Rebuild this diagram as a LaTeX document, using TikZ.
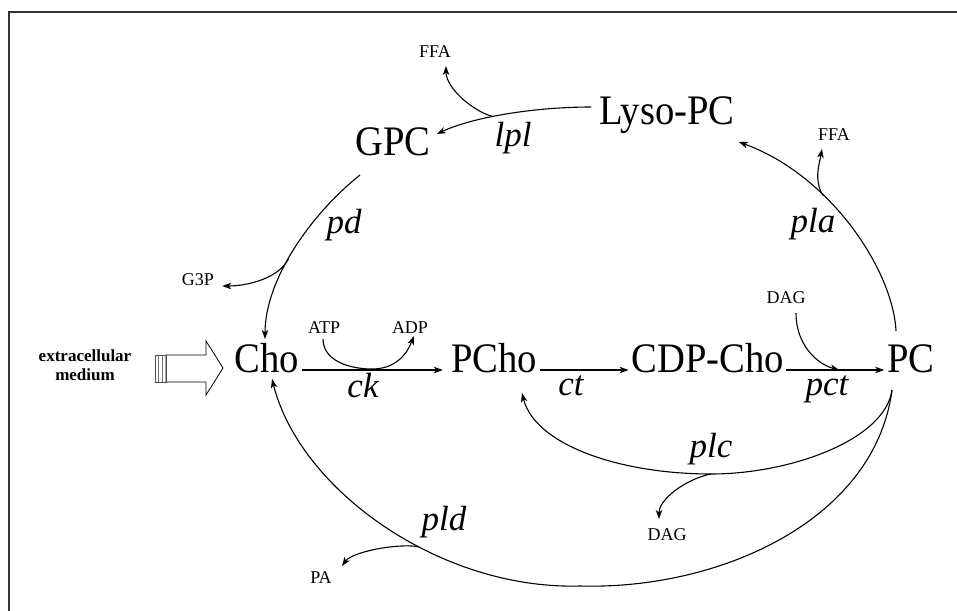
\documentclass[tikz,border=0pt]{standalone}
\usepackage{fontspec}
\setmainfont{Liberation Serif}
\newfontfamily\bigserif[FakeStretch=0.92]{Liberation Serif}
\usetikzlibrary{arrows.meta}
\begin{document}
\begin{tikzpicture}[x=1pt,y=-1pt,
  metab/.style={font=\bigserif\fontsize{42}{46}\selectfont, inner sep=0pt, anchor=base},
  minor/.style={font=\fontsize{18}{20}\selectfont, inner sep=0pt, anchor=base},
  enzyme/.style={font=\fontsize{35}{40}\selectfont\itshape, inner sep=0pt, anchor=base},
  flow/.style={line width=1.1pt, -{Stealth[length=9pt,width=6.5pt,inset=2.5pt]}},
  fork/.style={coordinate},
]
\useasboundingbox (0,0) rectangle (957,610);

% outer frame (open to the right and bottom)
\draw[black!80, line width=1.6pt] (9,640) -- (9,12) -- (990,12);

% metabolites
\node[metab] (lyso) at (667,124) {Lyso-PC};
\node[metab] (gpc)  at (393,155) {GPC};
\node[metab] (cho)  at (267,372) {Cho};
\node[metab] (pcho) at (494,372) {PCho};
\node[metab] (cdp)  at (708,372) {CDP-Cho};
\node[metab] (pc)   at (911,372) {PC};

% side products and cofactors
\node[minor] (ffaA) at (435,57)  {FFA};
\node[minor] (ffaB) at (834,140) {FFA};
\node[minor] (g3p)  at (198,285) {G3P};
\node[minor] (atp)  at (324,333) {ATP};
\node[minor] (adp)  at (410,333) {ADP};
\node[minor] (dagA) at (786,303) {DAG};
\node[minor] (dagB) at (667,540) {DAG};
\node[minor] (pa)   at (321,583) {PA};

% enzymes
\node[enzyme] (lpl) at (513,146) {lpl};
\node[enzyme] (pd)  at (344,233) {pd};
\node[enzyme] (pla) at (813,232) {pla};
\node[enzyme] (ck)  at (363,397) {ck};
\node[enzyme] (ct)  at (571,395) {ct};
\node[enzyme] (pct) at (827,395) {pct};
\node[enzyme] (plc) at (711,457) {plc};
\node[enzyme] (pld) at (444,530) {pld};

% extracellular supply
\node[font=\bfseries\fontsize{17}{19}\selectfont, align=center, inner sep=0pt]
  (ext) at (85,365) {extracellular\\medium};
\draw[line width=0.8pt] (166,355) -- (206,355) -- (206,341) -- (223,368)
  -- (206,395) -- (206,382) -- (166,382) -- cycle;
\draw[black!70, line width=0.8pt] (155,355) rectangle (166,382);
\draw[black!55, line width=0.8pt] (158.5,355) -- (158.5,382);
\draw[black!55, line width=1.4pt] (162.5,355) -- (162.5,382);

% main CDP-choline route
\draw[flow] ([shift={(3,-2)}]cho.base east) -- ([shift={(-8,-2)}]pcho.base west);
\draw[flow] ([shift={(3,-2)}]pcho.base east) -- ([shift={(-3,-2)}]cdp.base west);
\draw[flow] ([shift={(2,-2)}]cdp.base east) -- ([shift={(-3,-2)}]pc.base west);

% ATP -> ADP
\draw[flow] ([shift={(-1,6)}]atp.base) .. controls +(0,22) and +(-22,0) .. (372,369)
  .. controls +(22,0) and +(-8,20) .. ([shift={(4,3)}]adp.base);

% DAG into pct step
\draw[flow] ([shift={(10,10)}]dagA.base) .. controls +(0,32) and +(-22,-6)
  .. ([shift={(-48,-2)}]pc.base west);

% PC -> Lyso-PC (pla) with FFA release
\draw[flow] ([shift={(-15,-41)}]pc.base) .. controls (893,270) and (830,175)
  .. node[fork, pos=0.65] (plafork) {} ([shift={(4,18)}]lyso.base east);
\draw[flow] (plafork) .. controls +(-9,-15) and +(-3,16) .. ([shift={(-12,9)}]ffaB.base);

% Lyso-PC -> GPC (lpl) with FFA release
\draw[flow] ([shift={(-8,-17)}]lyso.base west) .. controls +(-60,0) and +(34,-16)
  .. node[fork, pos=0.57] (lplfork) {} ([shift={(6,-21)}]gpc.base east);
\draw[flow] (lplfork) .. controls +(-20,-5) and +(0,22) .. ([shift={(11,9)}]ffaA.base);

% GPC -> Cho (pd) with G3P release
\draw[flow] ([shift={(-33,20)}]gpc.base) .. controls (310,215) and (265,280)
  .. node[fork, pos=0.55] (pdfork) {} ([shift={(-2,-33)}]cho.base);
\draw[flow] (pdfork) .. controls +(-10,20) and +(25,0) .. ([shift={(8,1)}]g3p.base east);

% PC -> PCho (plc) with DAG release
\draw[flow] ([shift={(-19,18)}]pc.base) .. controls (885,440) and (790,474) .. (711,474)
  node[fork] (plcfork) {}
  .. controls (620,474) and (535,445) .. ([shift={(28,21)}]pcho.base);
\draw[flow] (plcfork) .. controls +(-25,5) and +(0,-20) .. ([shift={(-8,-21)}]dagB.base);

% PC -> Cho (pld) with PA release
\draw[flow] ([shift={(-19,18)}]pc.base) .. controls (875,520) and (720,590) .. (580,586)
  .. controls (440,590) and (300,490) .. node[fork, pos=0.4] (pldfork) {}
  ([shift={(5,7)}]cho.base);
\draw[flow] (pldfork) .. controls +(-22,-4) and +(10,-14) .. ([shift={(21,-17)}]pa.base);

\end{tikzpicture}
\end{document}
